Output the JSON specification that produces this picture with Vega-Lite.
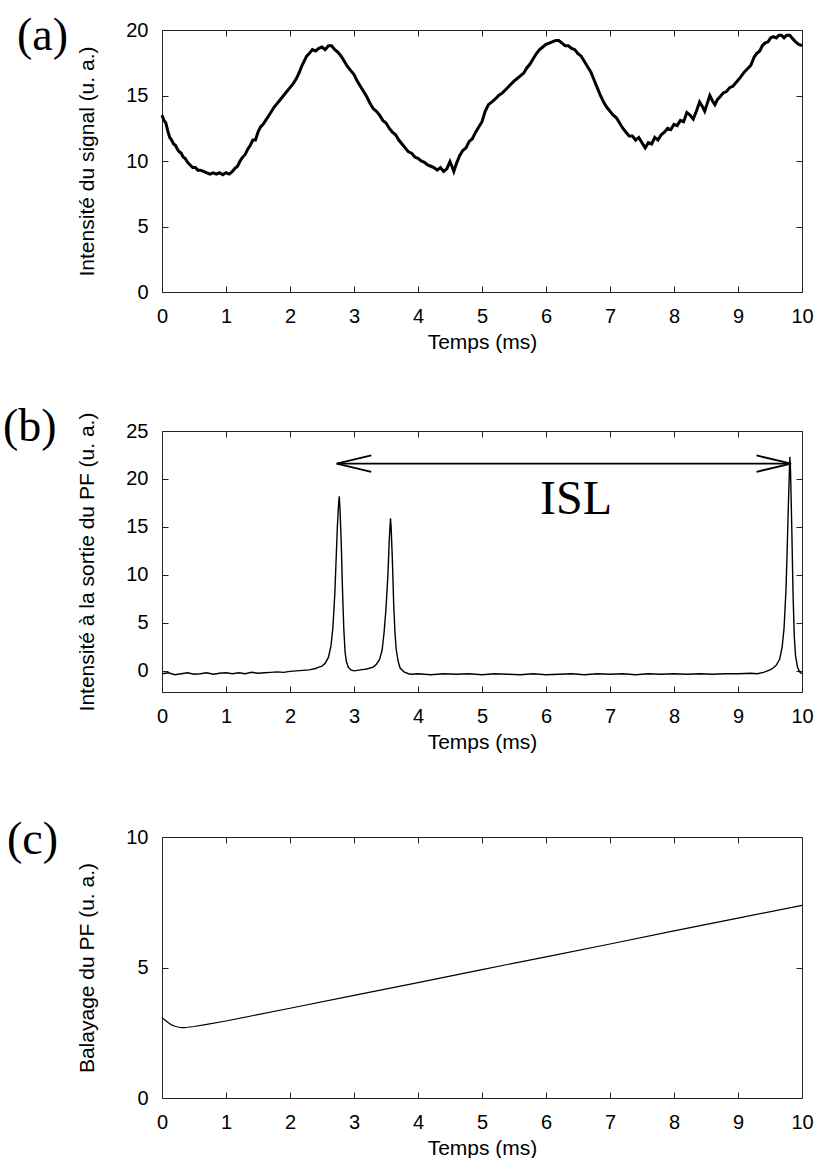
{
  "$schema": "https://vega.github.io/schema/vega-lite/v6.json",
  "autosize": {"type": "pad"},
  "padding": {"left": 3, "top": 13, "right": 0, "bottom": 0},
  "background": "white",
  "datasets": {
    "a": [
      {"t":0.00,"v":13.5},{"t":0.03,"v":13.1},{"t":0.06,"v":12.9},{"t":0.09,"v":12.3},{"t":0.12,"v":11.8},{"t":0.15,"v":11.6},{"t":0.18,"v":11.3},{"t":0.21,"v":11.2},{"t":0.24,"v":10.9},{"t":0.27,"v":10.7},{"t":0.30,"v":10.6},{"t":0.33,"v":10.3},{"t":0.36,"v":10.2},{"t":0.40,"v":9.9},{"t":0.44,"v":9.7},{"t":0.48,"v":9.5},{"t":0.52,"v":9.5},{"t":0.56,"v":9.3},{"t":0.60,"v":9.3},{"t":0.65,"v":9.2},{"t":0.70,"v":9.1},{"t":0.75,"v":9.0},{"t":0.80,"v":9.1},{"t":0.85,"v":9.0},{"t":0.90,"v":9.1},{"t":0.95,"v":8.95},{"t":1.00,"v":9.1},{"t":1.05,"v":9.0},{"t":1.10,"v":9.2},{"t":1.14,"v":9.45},{"t":1.18,"v":9.6},{"t":1.22,"v":10.0},{"t":1.26,"v":10.3},{"t":1.30,"v":10.5},{"t":1.34,"v":10.9},{"t":1.38,"v":11.2},{"t":1.42,"v":11.6},{"t":1.46,"v":11.6},{"t":1.50,"v":12.2},{"t":1.54,"v":12.6},{"t":1.58,"v":12.8},{"t":1.62,"v":13.1},{"t":1.66,"v":13.4},{"t":1.70,"v":13.7},{"t":1.75,"v":14.1},{"t":1.80,"v":14.4},{"t":1.85,"v":14.7},{"t":1.90,"v":15.0},{"t":1.95,"v":15.3},{"t":2.00,"v":15.6},{"t":2.05,"v":15.9},{"t":2.10,"v":16.3},{"t":2.14,"v":16.7},{"t":2.18,"v":17.2},{"t":2.22,"v":17.6},{"t":2.26,"v":18.0},{"t":2.30,"v":18.2},{"t":2.35,"v":18.5},{"t":2.40,"v":18.4},{"t":2.45,"v":18.6},{"t":2.50,"v":18.7},{"t":2.55,"v":18.5},{"t":2.60,"v":18.8},{"t":2.65,"v":18.8},{"t":2.70,"v":18.5},{"t":2.75,"v":18.3},{"t":2.80,"v":18.0},{"t":2.85,"v":17.6},{"t":2.90,"v":17.2},{"t":2.95,"v":16.9},{"t":3.00,"v":16.6},{"t":3.05,"v":16.1},{"t":3.10,"v":15.7},{"t":3.15,"v":15.3},{"t":3.20,"v":14.9},{"t":3.25,"v":14.4},{"t":3.30,"v":14.0},{"t":3.35,"v":13.8},{"t":3.40,"v":13.5},{"t":3.45,"v":13.1},{"t":3.50,"v":12.9},{"t":3.55,"v":12.5},{"t":3.60,"v":12.2},{"t":3.65,"v":12.0},{"t":3.70,"v":11.6},{"t":3.75,"v":11.3},{"t":3.80,"v":11.0},{"t":3.85,"v":10.7},{"t":3.90,"v":10.6},{"t":3.95,"v":10.3},{"t":4.00,"v":10.2},{"t":4.05,"v":10.0},{"t":4.10,"v":9.9},{"t":4.15,"v":9.7},{"t":4.20,"v":9.6},{"t":4.25,"v":9.5},{"t":4.30,"v":9.3},{"t":4.35,"v":9.5},{"t":4.40,"v":9.2},{"t":4.45,"v":9.4},{"t":4.50,"v":9.95},{"t":4.53,"v":9.6},{"t":4.56,"v":9.2},{"t":4.60,"v":9.8},{"t":4.65,"v":10.4},{"t":4.70,"v":10.8},{"t":4.75,"v":11.0},{"t":4.80,"v":11.5},{"t":4.85,"v":11.7},{"t":4.90,"v":12.2},{"t":4.95,"v":12.6},{"t":5.00,"v":13.0},{"t":5.05,"v":13.8},{"t":5.10,"v":14.3},{"t":5.15,"v":14.5},{"t":5.20,"v":14.7},{"t":5.26,"v":15.0},{"t":5.32,"v":15.2},{"t":5.38,"v":15.5},{"t":5.44,"v":15.8},{"t":5.50,"v":16.1},{"t":5.55,"v":16.3},{"t":5.60,"v":16.5},{"t":5.65,"v":16.7},{"t":5.70,"v":17.1},{"t":5.75,"v":17.4},{"t":5.80,"v":17.8},{"t":5.85,"v":18.2},{"t":5.90,"v":18.5},{"t":5.95,"v":18.7},{"t":6.00,"v":18.9},{"t":6.05,"v":19.0},{"t":6.10,"v":19.1},{"t":6.15,"v":19.2},{"t":6.20,"v":19.2},{"t":6.25,"v":19.0},{"t":6.30,"v":18.8},{"t":6.35,"v":18.8},{"t":6.40,"v":18.6},{"t":6.45,"v":18.5},{"t":6.50,"v":18.2},{"t":6.55,"v":18.0},{"t":6.60,"v":17.6},{"t":6.65,"v":17.2},{"t":6.70,"v":16.8},{"t":6.75,"v":16.2},{"t":6.80,"v":15.6},{"t":6.85,"v":15.0},{"t":6.90,"v":14.5},{"t":6.95,"v":14.1},{"t":7.00,"v":13.8},{"t":7.05,"v":13.5},{"t":7.10,"v":13.3},{"t":7.15,"v":12.9},{"t":7.20,"v":12.5},{"t":7.25,"v":12.2},{"t":7.30,"v":11.9},{"t":7.35,"v":11.9},{"t":7.40,"v":11.6},{"t":7.45,"v":11.8},{"t":7.50,"v":11.4},{"t":7.55,"v":11.0},{"t":7.60,"v":11.4},{"t":7.65,"v":11.3},{"t":7.70,"v":11.8},{"t":7.75,"v":11.6},{"t":7.80,"v":12.0},{"t":7.85,"v":12.2},{"t":7.90,"v":12.5},{"t":7.95,"v":12.4},{"t":8.00,"v":12.8},{"t":8.05,"v":12.7},{"t":8.10,"v":13.1},{"t":8.15,"v":13.0},{"t":8.20,"v":13.7},{"t":8.25,"v":13.5},{"t":8.30,"v":13.2},{"t":8.35,"v":13.8},{"t":8.40,"v":14.5},{"t":8.45,"v":14.1},{"t":8.48,"v":13.8},{"t":8.52,"v":14.4},{"t":8.56,"v":15.0},{"t":8.60,"v":14.6},{"t":8.64,"v":14.3},{"t":8.68,"v":14.7},{"t":8.72,"v":14.9},{"t":8.77,"v":15.2},{"t":8.82,"v":15.3},{"t":8.87,"v":15.6},{"t":8.92,"v":15.7},{"t":8.98,"v":16.05},{"t":9.04,"v":16.4},{"t":9.10,"v":16.8},{"t":9.16,"v":17.1},{"t":9.20,"v":17.3},{"t":9.25,"v":17.9},{"t":9.29,"v":18.2},{"t":9.34,"v":18.4},{"t":9.38,"v":18.8},{"t":9.42,"v":19.0},{"t":9.47,"v":19.1},{"t":9.51,"v":19.4},{"t":9.55,"v":19.5},{"t":9.60,"v":19.4},{"t":9.64,"v":19.6},{"t":9.68,"v":19.6},{"t":9.72,"v":19.4},{"t":9.76,"v":19.6},{"t":9.81,"v":19.6},{"t":9.86,"v":19.3},{"t":9.90,"v":19.1},{"t":9.95,"v":18.9},{"t":10.00,"v":18.8}
    ],
    "b": [
      {"t":0.0,"v":-0.3},{"t":0.1,"v":-0.2},{"t":0.2,"v":-0.4},{"t":0.3,"v":-0.3},{"t":0.4,"v":-0.2},{"t":0.5,"v":-0.35},{"t":0.6,"v":-0.3},{"t":0.7,"v":-0.2},{"t":0.8,"v":-0.35},{"t":0.9,"v":-0.25},{"t":1.0,"v":-0.2},{"t":1.1,"v":-0.3},{"t":1.2,"v":-0.2},{"t":1.3,"v":-0.3},{"t":1.4,"v":-0.15},{"t":1.5,"v":-0.25},{"t":1.6,"v":-0.2},{"t":1.7,"v":-0.15},{"t":1.8,"v":-0.1},{"t":1.9,"v":-0.15},{"t":2.0,"v":-0.05},{"t":2.1,"v":0.0},{"t":2.2,"v":0.05},{"t":2.3,"v":0.1},{"t":2.4,"v":0.25},{"t":2.45,"v":0.4},{"t":2.5,"v":0.5},{"t":2.55,"v":0.8},{"t":2.6,"v":1.4},{"t":2.64,"v":2.6},{"t":2.67,"v":4.5},{"t":2.70,"v":8.0},{"t":2.72,"v":11.5},{"t":2.74,"v":15.0},{"t":2.76,"v":17.5},{"t":2.77,"v":18.2},{"t":2.78,"v":17.0},{"t":2.80,"v":13.5},{"t":2.82,"v":8.5},{"t":2.84,"v":4.5},{"t":2.86,"v":2.0},{"t":2.88,"v":1.0},{"t":2.91,"v":0.4},{"t":2.95,"v":0.1},{"t":3.0,"v":0.0},{"t":3.1,"v":0.1},{"t":3.2,"v":0.2},{"t":3.3,"v":0.4},{"t":3.35,"v":0.7},{"t":3.40,"v":1.2},{"t":3.44,"v":2.2},{"t":3.47,"v":4.0},{"t":3.50,"v":6.5},{"t":3.53,"v":10.0},{"t":3.55,"v":13.5},{"t":3.57,"v":15.9},{"t":3.58,"v":15.0},{"t":3.60,"v":11.5},{"t":3.62,"v":7.0},{"t":3.64,"v":4.0},{"t":3.66,"v":2.2},{"t":3.69,"v":1.0},{"t":3.72,"v":0.3},{"t":3.78,"v":-0.1},{"t":3.85,"v":-0.3},{"t":3.9,"v":-0.35},{"t":4.0,"v":-0.3},{"t":4.2,"v":-0.4},{"t":4.4,"v":-0.3},{"t":4.6,"v":-0.35},{"t":4.8,"v":-0.3},{"t":5.0,"v":-0.4},{"t":5.2,"v":-0.3},{"t":5.4,"v":-0.35},{"t":5.6,"v":-0.4},{"t":5.8,"v":-0.3},{"t":6.0,"v":-0.4},{"t":6.2,"v":-0.35},{"t":6.4,"v":-0.3},{"t":6.6,"v":-0.4},{"t":6.8,"v":-0.3},{"t":7.0,"v":-0.35},{"t":7.2,"v":-0.3},{"t":7.4,"v":-0.4},{"t":7.6,"v":-0.3},{"t":7.8,"v":-0.35},{"t":8.0,"v":-0.3},{"t":8.2,"v":-0.35},{"t":8.4,"v":-0.3},{"t":8.6,"v":-0.35},{"t":8.8,"v":-0.3},{"t":9.0,"v":-0.3},{"t":9.2,"v":-0.25},{"t":9.3,"v":-0.3},{"t":9.4,"v":-0.15},{"t":9.5,"v":0.1},{"t":9.55,"v":0.3},{"t":9.6,"v":0.6},{"t":9.65,"v":1.2},{"t":9.69,"v":2.5},{"t":9.72,"v":4.5},{"t":9.75,"v":8.5},{"t":9.77,"v":13.0},{"t":9.79,"v":18.0},{"t":9.81,"v":22.3},{"t":9.82,"v":21.0},{"t":9.84,"v":15.0},{"t":9.86,"v":8.0},{"t":9.88,"v":3.5},{"t":9.90,"v":1.5},{"t":9.93,"v":0.4},{"t":9.96,"v":-0.1},{"t":10.0,"v":-0.3}
    ],
    "arrow": [
      {"t":2.73,"v":21.6,"t2":9.83,"v2":21.6},
      {"t":2.73,"v":21.6,"t2":3.27,"v2":22.45},
      {"t":2.73,"v":21.6,"t2":3.27,"v2":20.75},
      {"t":9.83,"v":21.6,"t2":9.29,"v2":22.45},
      {"t":9.83,"v":21.6,"t2":9.29,"v2":20.75}
    ],
    "label": [{"t":6.47,"v":16.4,"text":"ISL"}],
    "c": [
      {"t":0.00,"v":3.08},{"t":0.05,"v":2.98},{"t":0.10,"v":2.88},{"t":0.15,"v":2.80},{"t":0.20,"v":2.75},{"t":0.25,"v":2.72},{"t":0.30,"v":2.70},{"t":0.35,"v":2.70},{"t":0.40,"v":2.71},{"t":0.50,"v":2.74},{"t":0.70,"v":2.82},{"t":1.0,"v":2.95},{"t":2.0,"v":3.44},{"t":3.0,"v":3.93},{"t":4.0,"v":4.42},{"t":5.0,"v":4.92},{"t":6.0,"v":5.41},{"t":7.0,"v":5.90},{"t":8.0,"v":6.40},{"t":9.0,"v":6.89},{"t":10.0,"v":7.38}
    ]
  },
  "spacing": 65,
  "vconcat": [
    {
      "bounds": "flush",
      "spacing": 139,
      "vconcat": [
        {
          "width": 640, "height": 262,
          "title": {"text": "(a)", "dx": -145, "dy": 44},
          "data": {"name": "a"},
          "layer": [
            {
              "mark": {"type": "line", "color": "#000", "strokeWidth": 3},
              "encoding": {
                "x": {"field": "t", "type": "quantitative", "scale": {"domain": [0, 10], "nice": false},
                  "axis": {"orient": "bottom", "values": [0,1,2,3,4,5,6,7,8,9,10], "title": "Temps (ms)", "titleX": 320, "titleY": 50, "titleBaseline": "middle"}},
                "y": {"field": "v", "type": "quantitative", "scale": {"domain": [0, 20], "nice": false, "zero": false},
                  "axis": {"orient": "left", "values": [0,5,10,15,20], "title": "Intensité du signal (u. a.)", "titleX": -75, "titleY": 131, "titleBaseline": "middle"}}
              }
            },
            {
              "mark": {"type": "line", "opacity": 0},
              "encoding": {
                "x": {"field": "t", "type": "quantitative", "axis": {"orient": "top", "values": [0,1,2,3,4,5,6,7,8,9,10], "labels": false, "title": null}},
                "y": {"field": "v", "type": "quantitative", "axis": {"orient": "right", "values": [0,5,10,15,20], "labels": false, "title": null}}
              }
            }
          ]
        },
        {
          "width": 640, "height": 261,
          "title": {"text": "(b)", "dx": -159, "dy": 43},
          "layer": [
            {
              "data": {"name": "b"},
              "mark": {"type": "line", "color": "#000", "strokeWidth": 1.4},
              "encoding": {
                "x": {"field": "t", "type": "quantitative", "scale": {"domain": [0, 10], "nice": false},
                  "axis": {"orient": "bottom", "values": [0,1,2,3,4,5,6,7,8,9,10], "title": "Temps (ms)", "titleX": 320, "titleY": 50, "titleBaseline": "middle"}},
                "y": {"field": "v", "type": "quantitative", "scale": {"domain": [-2.2, 25], "nice": false, "zero": false},
                  "axis": {"orient": "left", "values": [0,5,10,15,20,25], "title": "Intensité à la sortie du PF (u. a.)", "titleX": -75, "titleY": 130.5, "titleBaseline": "middle"}}
              }
            },
            {
              "data": {"name": "b"},
              "mark": {"type": "line", "opacity": 0},
              "encoding": {
                "x": {"field": "t", "type": "quantitative", "axis": {"orient": "top", "values": [0,1,2,3,4,5,6,7,8,9,10], "labels": false, "title": null}},
                "y": {"field": "v", "type": "quantitative", "axis": {"orient": "right", "values": [0,5,10,15,20,25], "labels": false, "title": null}}
              }
            },
            {
              "data": {"name": "arrow"},
              "mark": {"type": "rule", "color": "#000", "strokeWidth": 1.8},
              "encoding": {
                "x": {"field": "t", "type": "quantitative", "axis": null},
                "x2": {"field": "t2"},
                "y": {"field": "v", "type": "quantitative", "axis": null},
                "y2": {"field": "v2"}
              }
            },
            {
              "data": {"name": "label"},
              "mark": {"type": "text", "font": "Liberation Serif", "fontSize": 48, "baseline": "alphabetic", "align": "center", "color": "#000"},
              "encoding": {
                "x": {"field": "t", "type": "quantitative", "axis": null},
                "y": {"field": "v", "type": "quantitative", "axis": null},
                "text": {"field": "text"}
              }
            }
          ]
        }
      ]
    },
    {
      "width": 640, "height": 261,
      "title": {"text": "(c)", "dx": -155, "dy": 41},
      "data": {"name": "c"},
      "layer": [
        {
          "mark": {"type": "line", "color": "#000", "strokeWidth": 1.2},
          "encoding": {
            "x": {"field": "t", "type": "quantitative", "scale": {"domain": [0, 10], "nice": false},
              "axis": {"orient": "bottom", "values": [0,1,2,3,4,5,6,7,8,9,10], "title": "Temps (ms)", "titleX": 320, "titleY": 50, "titleBaseline": "middle"}},
            "y": {"field": "v", "type": "quantitative", "scale": {"domain": [0, 10], "nice": false},
              "axis": {"orient": "left", "values": [0,5,10], "title": "Balayage du PF (u. a.)", "titleX": -75, "titleY": 130.5, "titleBaseline": "middle"}}
          }
        },
        {
          "mark": {"type": "line", "opacity": 0},
          "encoding": {
            "x": {"field": "t", "type": "quantitative", "axis": {"orient": "top", "values": [0,1,2,3,4,5,6,7,8,9,10], "labels": false, "title": null}},
            "y": {"field": "v", "type": "quantitative", "axis": {"orient": "right", "values": [0,5,10], "labels": false, "title": null}}
          }
        }
      ]
    }
  ],
  "config": {
    "view": {"stroke": null},
    "axis": {
      "grid": false,
      "domainColor": "#222",
      "domainWidth": 1,
      "tickColor": "#222",
      "tickSize": -6,
      "labelPadding": 20,
      "labelFont": "Liberation Sans",
      "labelFontSize": 20,
      "labelColor": "#000",
      "labelFlush": false,
      "labelOverlap": false,
      "titleFont": "Liberation Sans",
      "titleFontSize": 21,
      "titleFontWeight": "normal",
      "titleColor": "#000"
    },
    "title": {
      "font": "Liberation Serif",
      "fontSize": 46,
      "fontWeight": "normal",
      "anchor": "start",
      "frame": "group",
      "baseline": "alphabetic",
      "offset": 0,
      "color": "#000"
    }
  }
}
